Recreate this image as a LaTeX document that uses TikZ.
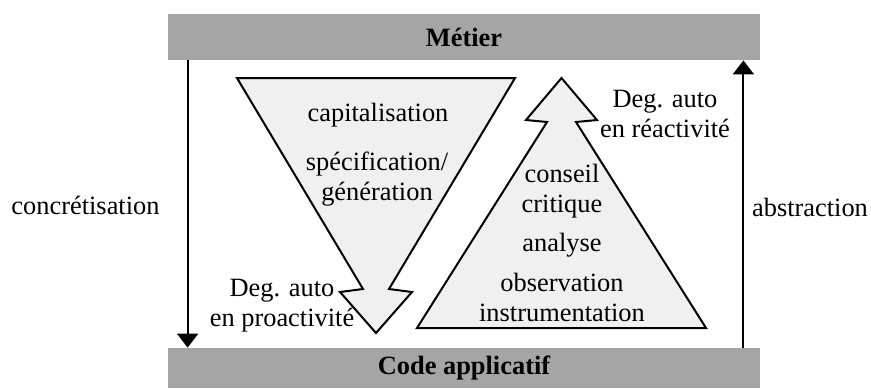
\documentclass[tikz,border=0pt]{standalone}
\usepackage{fontspec}
\setmainfont{Liberation Serif}
\usetikzlibrary{arrows.meta}
\definecolor{gris}{RGB}{165,165,165}
\definecolor{grisclair}{RGB}{240,240,240}

\begin{document}
\begin{tikzpicture}[x=0.5pt,y=-0.5pt,
        texte/.style={font=\fontsize{13.2}{15}\selectfont,inner sep=0pt,align=center},
        bande/.style={fill=gris,draw=none,minimum width=296pt,inner sep=0pt,
            font=\fontsize{13.2}{15}\selectfont\bfseries},
        forme/.style={draw,fill=grisclair,line width=1pt,line join=miter},
        fleche/.style={line width=1pt,-{Triangle[width=10.5pt,length=7pt]}}]
        \useasboundingbox (0,0) rectangle (871,388);
        % bandes
        \node[bande,minimum height=23pt] (metier) at (464,37) {Métier};
        \node[bande,minimum height=20pt] (code) at (464,368) {Code applicatif};
        % fleches laterales
        \draw[fleche] ([xshift=10pt]metier.south west) -- ([xshift=10pt]code.north west);
        \draw[fleche] ([xshift=-8.5pt]code.north east) -- ([xshift=-8.5pt]metier.south east);
        \node[texte] (conc) at (85.5,205) {concrétisation};
        \node[texte] (abstr) at (810,207) {abstraction};
        % triangle descendant
        \draw[forme] (237,78) -- (515,78) -- (389,289) -- (412,292) -- (376,333)
            -- (340,292) -- (363,289) -- cycle;
        \node[texte] (capi) at (378,115) {capitalisation};
        \node[texte] (spec) at (377,179) {spécification/\\génération};
        \node[texte] (proact) at (282,306) {Deg. auto\\en proactivité};
        % triangle montant
        \draw[forme] (561.5,78) -- (597,120) -- (576,122) -- (706,328) -- (417,328)
            -- (547,122) -- (526,120) -- cycle;
        \node[texte] (react) at (665,114) {Deg. auto\\en réactivité};
        \node[texte] (conseil) at (562,191) {conseil\\critique};
        \node[texte] (analyse) at (562,245) {analyse};
        \node[texte] (observ) at (562,297) {observation\\instrumentation};
    \end{tikzpicture}
\end{document}
